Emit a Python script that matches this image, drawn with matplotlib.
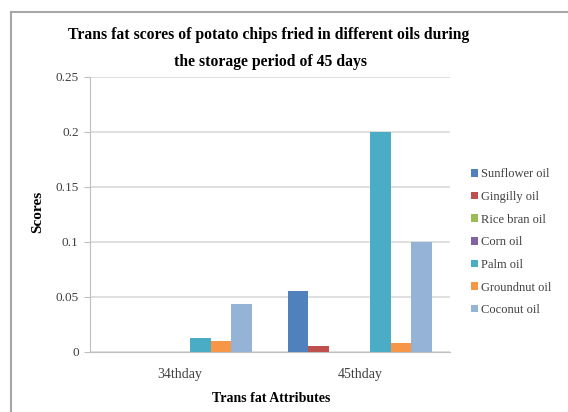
import numpy as np
import matplotlib
matplotlib.use("Agg")
import matplotlib.pyplot as plt
from matplotlib.lines import Line2D

# data
categorias = ["34thday", "45thday"]
oleos = ["Sunflower oil", "Gingilly oil", "Rice bran oil", "Corn oil",
         "Palm oil", "Groundnut oil", "Coconut oil"]
sunflower = [0.0, 0.055]
gingilly = [0.0, 0.005]
rice_bran = [0.0, 0.0]
corn = [0.0, 0.0]
palm = [0.012, 0.2]
groundnut = [0.010, 0.008]
coconut = [0.043, 0.1]
series = [sunflower, gingilly, rice_bran, corn, palm, groundnut, coconut]
cores = ["#4F81BD", "#C0504D", "#9BBB59", "#8064A2", "#4BACC6", "#F79646", "#95B3D7"]

plt.rcParams['font.family'] = ['Liberation Serif', 'DejaVu Serif']

fig = plt.figure(figsize=(5.68, 4.12), dpi=100)
ax = fig.add_axes([0.158, 0.1464, 0.634, 0.6674])

x = np.arange(len(categorias))
n = len(series)
largura = 0.8 / n
for i, (vals, cor, nome) in enumerate(zip(series, cores, oleos)):
    ax.bar(x + (i - (n - 1) / 2) * largura, vals, largura, color=cor, label=nome, zorder=3)

ax.set_xlim(-0.5, 1.5)
ax.set_ylim(0, 0.25)
ax.set_yticks([0, 0.05, 0.1, 0.15, 0.2, 0.25])
ax.set_yticklabels(["0", "0.05", "0.1", "0.15", "0.2", "0.25"])
ax.set_xticks(x)
ax.set_xticklabels(categorias)
ax.grid(axis='y', color='#D9D9D9', linewidth=1.2, zorder=0)
for s in ['top', 'right']:
    ax.spines[s].set_visible(False)
ax.spines['left'].set_color('#BFBFBF')
ax.spines['bottom'].set_color('#BFBFBF')
ax.tick_params(axis='y', colors='#BFBFBF', labelcolor='#404040', labelsize=9.5, length=4, pad=4)
ax.tick_params(axis='x', length=0, labelcolor='#404040', labelsize=10, pad=12)

# titulos dos eixos
fig.text(38 / 568, 1 - 212 / 412, "Scores", rotation=90, ha='center', va='center',
         fontsize=11, fontweight='bold')
fig.text(271 / 568, 1 - 398 / 412, "Trans fat Attributes", ha='center', va='center',
         fontsize=10, fontweight='bold')

# titulo em duas linhas
fig.text(269 / 568, 1 - 35 / 412, "Trans fat scores of potato chips fried in different oils during",
         ha='center', va='center', fontsize=11.3, fontweight='bold')
fig.text(270 / 568, 1 - 62 / 412, "the storage period of 45 days",
         ha='center', va='center', fontsize=11.3, fontweight='bold')

fig.legend(loc='center left', bbox_to_anchor=(0.809, 0.412), frameon=False,
           fontsize=9, handlelength=0.55, handleheight=0.55, handletextpad=0.3,
           labelspacing=0.85, labelcolor='#404040')

# borda do grafico (so topo e esquerda aparecem)
fig.add_artist(Line2D([11 / 568, 11 / 568], [0, 1 - 12 / 412], transform=fig.transFigure, color='#A6A6A6', linewidth=1.5))
fig.add_artist(Line2D([11 / 568, 1], [1 - 12 / 412, 1 - 12 / 412], transform=fig.transFigure, color='#A6A6A6', linewidth=1.5))

fig.savefig("out.png", dpi=100)
